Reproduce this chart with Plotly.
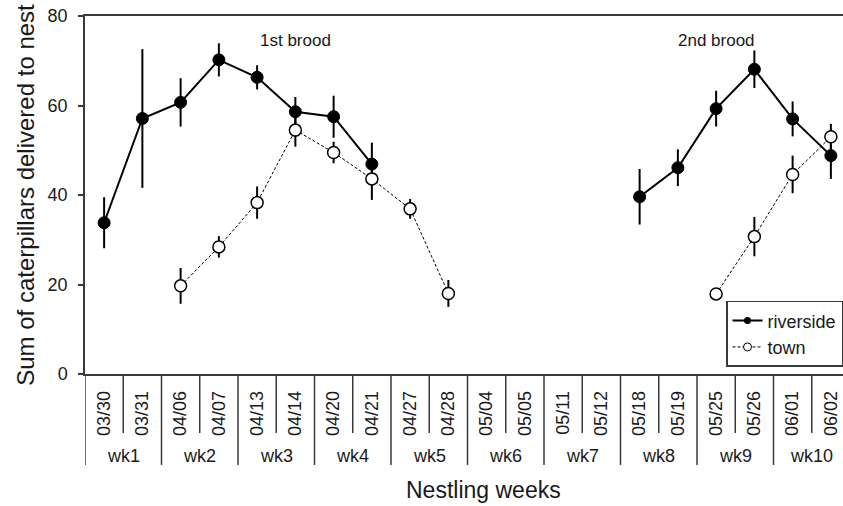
import plotly.graph_objects as go

# Sampling dates (two per nestling week) and week labels
dates = ["03/30", "03/31", "04/06", "04/07", "04/13", "04/14", "04/20", "04/21",
         "04/27", "04/28", "05/04", "05/05", "05/11", "05/12", "05/18", "05/19",
         "05/25", "05/26", "06/01", "06/02"]
weeks = ["wk1", "wk2", "wk3", "wk4", "wk5", "wk6", "wk7", "wk8", "wk9", "wk10"]

# Mean caterpillars delivered to nest, with error (+/-)
riverside = [33.8, 57.1, 60.7, 70.2, 66.3, 58.6, 57.5, 46.9, None, None,
             None, None, None, None, 39.6, 46.1, 59.3, 68.1, 57.0, 48.8]
riverside_err = [5.7, 15.5, 5.4, 3.7, 2.7, 3.3, 4.7, 4.8, None, None,
                 None, None, None, None, 6.2, 4.1, 4.0, 4.2, 3.9, 5.2]
town = [None, None, 19.7, 28.4, 38.3, 54.5, 49.5, 43.6, 36.9, 18.0,
        None, None, None, None, None, None, 17.9, 30.7, 44.6, 53.0]
town_err = [None, None, 4.0, 2.4, 3.6, 3.7, 2.4, 4.7, 2.2, 3.0,
            None, None, None, None, None, None, 1.0, 4.4, 4.2, 2.9]

brood_labels = ["1st brood", "2nd brood"]
brood_pos = ["04/14", "05/25"]
brood_y = 74.6

FONT = "Liberation Sans, Arial, sans-serif"
INK = "#1a1a1a"
AXIS = "#3a3a3a"

riverside_line = dict(color="black", width=2)
town_line = dict(color="black", width=1, dash="3px,2px")

fig = go.Figure()

fig.add_trace(go.Scatter(
    x=dates, y=riverside, name="riverside", mode="lines+markers",
    connectgaps=False, showlegend=False,
    line=riverside_line,
    marker=dict(symbol="circle", size=12, color="black",
                line=dict(color="black", width=1)),
    error_y=dict(type="data", array=riverside_err, visible=True,
                 color="black", thickness=2, width=0),
))

fig.add_trace(go.Scatter(
    x=dates, y=town, name="town", mode="lines+markers",
    connectgaps=False, showlegend=False,
    line=town_line,
    marker=dict(symbol="circle", size=12, color="white",
                line=dict(color="black", width=1.5)),
    error_y=dict(type="data", array=town_err, visible=True,
                 color="black", thickness=2, width=0),
))

# Legend keys use smaller symbols than the plotted markers
fig.add_trace(go.Scatter(
    x=[None], y=[None], name="riverside", mode="lines+markers",
    line=riverside_line,
    marker=dict(symbol="circle", size=7, color="black"),
))
fig.add_trace(go.Scatter(
    x=[None], y=[None], name="town", mode="lines+markers",
    line=town_line,
    marker=dict(symbol="circle", size=8, color="white",
                line=dict(color="black", width=1)),
))

# Divider lines under the axis: short between dates, long between weeks
shapes = []
for i in range(len(dates)):
    long_div = (i % 2 == 0)
    shapes.append(dict(
        type="line", xref="x", yref="paper",
        x0=i - 0.5, x1=i - 0.5, y0=0, y1=-0.254 if long_div else -0.165,
        line=dict(color=AXIS, width=1.5),
    ))

annotations = []
for k, wk in enumerate(weeks):
    annotations.append(dict(
        x=2 * k + 0.5, xref="x", y=-0.229, yref="paper",
        text=wk, showarrow=False, yanchor="middle", xanchor="center",
        font=dict(family=FONT, size=18, color=INK),
    ))
for lbl, pos in zip(brood_labels, brood_pos):
    annotations.append(dict(
        x=dates.index(pos), xref="x", y=brood_y, yref="y",
        text=lbl, showarrow=False, xanchor="center", yanchor="middle",
        font=dict(family=FONT, size=17, color=INK),
    ))
annotations.append(dict(
    x=0.526, xref="paper", y=-0.324, yref="paper",
    text="Nestling weeks", showarrow=False, xanchor="center", yanchor="middle",
    font=dict(family=FONT, size=23, color=INK),
))

fig.update_layout(
    width=843, height=506,
    margin=dict(l=85, r=0, t=16, b=132),
    paper_bgcolor="white", plot_bgcolor="white",
    font=dict(family=FONT, color=INK),
    showlegend=True,
    legend=dict(
        x=1, y=0.02, xanchor="right", yanchor="bottom",
        bgcolor="white", bordercolor=AXIS, borderwidth=1.5,
        font=dict(family=FONT, size=18, color=INK),
        tracegroupgap=0, itemwidth=30,
    ),
    shapes=shapes,
    annotations=annotations,
)

fig.update_xaxes(
    type="category", categoryorder="array", categoryarray=dates,
    range=[-0.5, 19.317],
    showgrid=False, zeroline=False,
    showline=True, linecolor=AXIS, linewidth=1.5, mirror=True,
    ticks="", tickangle=-90, ticklabelstandoff=8,
    tickfont=dict(family=FONT, size=18, color=INK),
)

fig.update_yaxes(
    range=[0, 80], tickvals=[0, 20, 40, 60, 80],
    showgrid=False, zeroline=False,
    showline=True, linecolor=AXIS, linewidth=1.5,
    ticks="outside", ticklen=5, tickcolor=AXIS, tickwidth=1.5,
    ticklabelstandoff=7,
    tickfont=dict(family=FONT, size=18, color=INK),
    title=dict(text="Sum of caterpillars delivered to nest",
               font=dict(family=FONT, size=24, color=INK), standoff=6),
)

fig.write_html("out.html")
